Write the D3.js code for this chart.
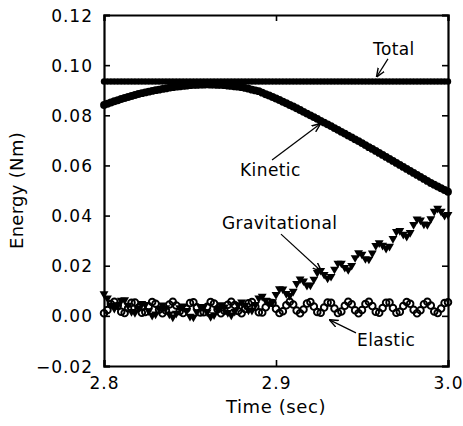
<!DOCTYPE html>
<html>
<head>
<meta charset="utf-8">
<script src="https://cdn.jsdelivr.net/npm/d3@7"></script>
<style>
  html, body { margin: 0; padding: 0; background: #fff; }
  svg { display: block; }
  text { font-family: "DejaVu Sans", "Liberation Sans", sans-serif; fill: #000; }
</style>
</head>
<body>
<svg id="chart" width="463" height="426"></svg>
<script>
// ---------------- DATA ----------------
const time = [
  2.800,2.802,2.804,2.806,2.808,2.810,2.812,2.814,2.816,2.818,
  2.820,2.822,2.824,2.826,2.828,2.830,2.832,2.834,2.836,2.838,
  2.840,2.842,2.844,2.846,2.848,2.850,2.852,2.854,2.856,2.858,
  2.860,2.862,2.864,2.866,2.868,2.870,2.872,2.874,2.876,2.878,
  2.880,2.882,2.884,2.886,2.888,2.890,2.892,2.894,2.896,2.898,
  2.900,2.902,2.904,2.906,2.908,2.910,2.912,2.914,2.916,2.918,
  2.920,2.922,2.924,2.926,2.928,2.930,2.932,2.934,2.936,2.938,
  2.940,2.942,2.944,2.946,2.948,2.950,2.952,2.954,2.956,2.958,
  2.960,2.962,2.964,2.966,2.968,2.970,2.972,2.974,2.976,2.978,
  2.980,2.982,2.984,2.986,2.988,2.990,2.992,2.994,2.996,2.998,
  3.000
];

const total = [
  0.0935,0.0935,0.0935,0.0935,0.0935,0.0935,0.0935,0.0935,0.0935,0.0935,
  0.0935,0.0935,0.0935,0.0935,0.0935,0.0935,0.0935,0.0935,0.0935,0.0935,
  0.0935,0.0935,0.0935,0.0935,0.0935,0.0935,0.0935,0.0935,0.0935,0.0935,
  0.0935,0.0935,0.0935,0.0935,0.0935,0.0935,0.0935,0.0935,0.0935,0.0935,
  0.0935,0.0935,0.0935,0.0935,0.0935,0.0935,0.0935,0.0935,0.0935,0.0935,
  0.0935,0.0935,0.0935,0.0935,0.0935,0.0935,0.0935,0.0935,0.0935,0.0935,
  0.0935,0.0935,0.0935,0.0935,0.0935,0.0935,0.0935,0.0935,0.0935,0.0935,
  0.0935,0.0935,0.0935,0.0935,0.0935,0.0935,0.0935,0.0935,0.0935,0.0935,
  0.0935,0.0935,0.0935,0.0935,0.0935,0.0935,0.0935,0.0935,0.0935,0.0935,
  0.0935,0.0935,0.0935,0.0935,0.0935,0.0935,0.0935,0.0935,0.0935,0.0935,
  0.0935
];

const kinetic = [
  0.0841,0.0846,0.0851,0.0856,0.0860,0.0865,0.0869,0.0873,0.0877,0.0881,
  0.0885,0.0888,0.0891,0.0894,0.0897,0.0900,0.0902,0.0905,0.0907,0.0910,
  0.0912,0.0914,0.0915,0.0917,0.0918,0.0920,0.0921,0.0921,0.0922,0.0922,
  0.0923,0.0922,0.0922,0.0921,0.0921,0.0920,0.0918,0.0917,0.0915,0.0914,
  0.0912,0.0909,0.0906,0.0902,0.0899,0.0896,0.0890,0.0884,0.0879,0.0873,
  0.0867,0.0861,0.0854,0.0848,0.0841,0.0835,0.0828,0.0821,0.0814,0.0807,
  0.0800,0.0793,0.0786,0.0778,0.0771,0.0764,0.0757,0.0749,0.0742,0.0734,
  0.0727,0.0719,0.0712,0.0704,0.0697,0.0689,0.0681,0.0673,0.0666,0.0658,
  0.0650,0.0642,0.0634,0.0626,0.0618,0.0610,0.0602,0.0594,0.0586,0.0578,
  0.0570,0.0562,0.0554,0.0546,0.0538,0.0530,0.0523,0.0516,0.0509,0.0502,
  0.0495
];

const gravitational = [
  0.0088,0.0071,0.0043,0.0030,0.0042,0.0062,0.0064,0.0042,0.0017,0.0013,
  0.0031,0.0049,0.0045,0.0020,0.0002,0.0007,0.0030,0.0043,0.0032,0.0007,
  -0.0005,0.0010,0.0032,0.0039,0.0021,-0.0002,-0.0005,0.0016,0.0037,0.0037,
  0.0015,-0.0003,0.0004,0.0027,0.0044,0.0035,0.0013,0.0003,0.0018,0.0044,
  0.0055,0.0042,0.0023,0.0022,0.0045,0.0071,0.0078,0.0062,0.0048,0.0056,
  0.0085,0.0108,0.0107,0.0089,0.0081,0.0098,0.0129,0.0147,0.0139,0.0122,
  0.0123,0.0146,0.0173,0.0181,0.0165,0.0150,0.0157,0.0186,0.0210,0.0210,
  0.0193,0.0184,0.0201,0.0232,0.0251,0.0245,0.0228,0.0226,0.0250,0.0280,
  0.0291,0.0281,0.0269,0.0277,0.0308,0.0336,0.0340,0.0325,0.0317,0.0332,
  0.0364,0.0386,0.0382,0.0366,0.0364,0.0387,0.0417,0.0429,0.0417,0.0401,
  0.0404
];

const elastic = [
  0.0010,0.0023,0.0047,0.0056,0.0040,0.0016,0.0011,0.0030,0.0052,0.0053,
  0.0032,0.0012,0.0015,0.0038,0.0055,0.0048,0.0024,0.0010,0.0021,0.0045,
  0.0056,0.0041,0.0018,0.0011,0.0028,0.0051,0.0054,0.0034,0.0013,0.0014,
  0.0036,0.0055,0.0049,0.0026,0.0010,0.0020,0.0044,0.0056,0.0043,0.0019,
  0.0010,0.0027,0.0050,0.0055,0.0036,0.0014,0.0013,0.0034,0.0054,0.0051,
  0.0028,0.0011,0.0018,0.0042,0.0056,0.0045,0.0021,0.0010,0.0025,0.0049,
  0.0055,0.0037,0.0015,0.0012,0.0033,0.0053,0.0052,0.0029,0.0011,0.0017,
  0.0040,0.0056,0.0046,0.0022,0.0010,0.0023,0.0047,0.0056,0.0039,0.0016,
  0.0012,0.0031,0.0052,0.0053,0.0031,0.0012,0.0016,0.0039,0.0055,0.0048,
  0.0024,0.0010,0.0022,0.0046,0.0056,0.0041,0.0017,0.0011,0.0029,0.0051,
  0.0054
];

const xTicks = [2.8, 2.9, 3.0];
const xTickLabels = ["2.8", "2.9", "3.0"];
const yTicks = [-0.02, 0.00, 0.02, 0.04, 0.06, 0.08, 0.10, 0.12];
const yTickLabels = ["\u22120.02", "0.00", "0.02", "0.04", "0.06", "0.08", "0.10", "0.12"];

// annotation labels: text anchor point and arrow (from -> to), in data units
const annLabels = ["Total", "Kinetic", "Gravitational", "Elastic"];
const annText   = [[2.9564, 0.1040], [2.8791, 0.0558], [2.8686, 0.0346], [2.9471, -0.0120]];
const annFrom   = [[2.9651, 0.1025], [2.8977, 0.0622], [2.9029, 0.0326], [2.9465, -0.0068]];
const annTo     = [[2.9587, 0.0955], [2.9256, 0.0765], [2.9262, 0.0179], [2.9314, -0.0017]];

// ---------------- CHART ----------------
const svg = d3.select("#chart");
const W = 463, H = 426;
const m = { left: 104, right: W - 448, top: 15, bottom: H - 366 };

const x = d3.scaleLinear().domain([2.8, 3.0]).range([m.left, W - m.right]);
const y = d3.scaleLinear().domain([-0.02, 0.12]).range([H - m.bottom, m.top]);

const tickLen = 6;

const gBottom = svg.append("g").attr("transform", `translate(0,${y(-0.02)})`)
  .call(d3.axisBottom(x).tickValues(xTicks).tickSize(-tickLen).tickFormat((d, i) => xTickLabels[i]).tickPadding(10));
const gTop = svg.append("g").attr("transform", `translate(0,${y(0.12)})`)
  .call(d3.axisTop(x).tickValues(xTicks).tickSize(-tickLen).tickFormat(""));
const gLeft = svg.append("g").attr("transform", `translate(${x(2.8)},0)`)
  .call(d3.axisLeft(y).tickValues(yTicks).tickSize(-tickLen).tickFormat((d, i) => yTickLabels[i]).tickPadding(11));
const gRight = svg.append("g").attr("transform", `translate(${x(3.0)},0)`)
  .call(d3.axisRight(y).tickValues(yTicks).tickSize(-tickLen).tickFormat(""));

[gBottom, gTop, gLeft, gRight].forEach(g => {
  g.select(".domain").attr("stroke", "#000").attr("stroke-width", 2.2);
  g.selectAll(".tick line").attr("stroke", "#000").attr("stroke-width", 1.6);
  g.selectAll(".tick text")
    .style("font-family", '"DejaVu Sans", sans-serif')
    .style("font-size", "17px")
    .style("letter-spacing", "1px")
    .attr("fill", "#000");
});
gLeft.selectAll(".tick text").attr("dy", "0.36em");
gBottom.selectAll(".tick text").attr("dy", "0.75em");

svg.append("text")
  .attr("x", (x(2.8) + x(3.0)) / 2)
  .attr("y", 413)
  .attr("text-anchor", "middle")
  .style("font-size", "18px")
  .style("letter-spacing", "0.6px")
  .text("Time (sec)");

svg.append("text")
  .attr("transform", `translate(23,${(y(-0.02) + y(0.12)) / 2}) rotate(-90)`)
  .attr("text-anchor", "middle")
  .style("font-size", "18px")
  .style("letter-spacing", "0.3px")
  .text("Energy (Nm)");

const idx = d3.range(time.length);

// elastic: open circles
svg.append("g").selectAll("circle").data(idx).join("circle")
  .attr("cx", i => x(time[i])).attr("cy", i => y(elastic[i]))
  .attr("r", 3.3).attr("fill", "none").attr("stroke", "#000").attr("stroke-width", 1.9);

// gravitational: filled downward triangles
const tri = d3.symbol().type(d3.symbolTriangle).size(34);
svg.append("g").selectAll("path").data(idx).join("path")
  .attr("d", tri)
  .attr("transform", i => `translate(${x(time[i])},${y(gravitational[i])}) rotate(180)`)
  .attr("fill", "#000");

// kinetic: filled circles
svg.append("g").selectAll("circle").data(idx).join("circle")
  .attr("cx", i => x(time[i])).attr("cy", i => y(kinetic[i]))
  .attr("r", 3.9).attr("fill", "#000");

// total: filled circles (thick band)
svg.append("g").selectAll("circle").data(idx).join("circle")
  .attr("cx", i => x(time[i])).attr("cy", i => y(total[i]))
  .attr("r", 3.2).attr("fill", "#000");

svg.append("defs").append("marker")
  .attr("id", "ah").attr("viewBox", "0 0 10 10").attr("refX", 9).attr("refY", 5)
  .attr("markerWidth", 9).attr("markerHeight", 9).attr("markerUnits", "userSpaceOnUse")
  .attr("orient", "auto")
  .append("path").attr("d", "M0,1 L10,5 L0,9").attr("fill", "none")
  .attr("stroke", "#000").attr("stroke-width", 1.6);

annLabels.forEach((lab, i) => {
  svg.append("line")
    .attr("x1", x(annFrom[i][0])).attr("y1", y(annFrom[i][1]))
    .attr("x2", x(annTo[i][0])).attr("y2", y(annTo[i][1]))
    .attr("stroke", "#000").attr("stroke-width", 1.2)
    .attr("marker-end", "url(#ah)");
  svg.append("text")
    .attr("x", x(annText[i][0])).attr("y", y(annText[i][1]))
    .style("font-size", "17px")
    .style("letter-spacing", "0.4px")
    .text(lab);
});
</script>
</body>
</html>
